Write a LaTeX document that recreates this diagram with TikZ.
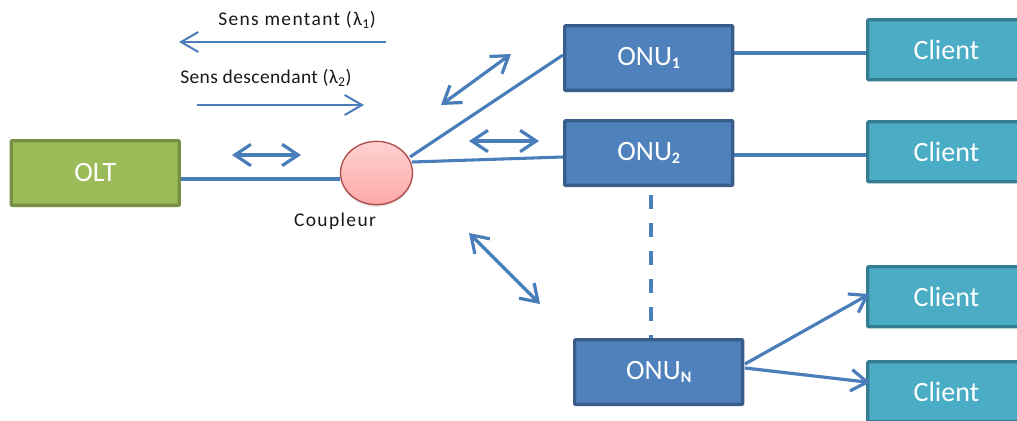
\documentclass[tikz,border=0pt]{standalone}
\usepackage{fontspec}
\setmainfont{Carlito}
\usetikzlibrary{arrows.meta,shapes.geometric,shadows}
\definecolor{linkblue}{HTML}{4A7EBB}
\definecolor{onufill}{HTML}{4F81BD}
\definecolor{onuedge}{HTML}{385D8A}
\definecolor{oltfill}{HTML}{9BBB59}
\definecolor{oltedge}{HTML}{779044}
\definecolor{clifill}{HTML}{4BACC6}
\definecolor{cliedge}{HTML}{357D91}
\newcommand{\onusub}[1]{\raisebox{-2.5pt}{\fontsize{12}{12}\selectfont\textbf{#1}}}
\tikzset{
  x=0.75pt,y=-0.75pt,
  boxbase/.style={rectangle,inner sep=0pt,rounded corners=0.8pt,line width=2.6pt,text=white,font=\fontsize{21}{24}\selectfont,anchor=north west},
  onubox/.style={boxbase,draw=onuedge,fill=onufill,minimum width=126pt,minimum height=48.5pt},
  oltbox/.style={boxbase,draw=oltedge,fill=oltfill,minimum width=126pt,minimum height=48.5pt},
  clibox/.style={boxbase,draw=cliedge,fill=clifill,minimum width=118pt,minimum height=45pt},
  link/.style={draw=linkblue,line width=2.3pt},
  thinarrow/.style={draw=linkblue,line width=1.5pt,-{Straight Barb[length=13pt,width=15pt,line width=1.5pt]}},
  twoway/.style={draw=linkblue,line width=2.4pt,{Straight Barb[length=12pt,width=16pt,line width=2.4pt]}-{Straight Barb[length=12pt,width=16pt,line width=2.4pt]}},
  onearrow/.style={draw=linkblue,line width=2.4pt,-{Straight Barb[length=12pt,width=16pt,line width=2.4pt]}},
  caption/.style={text=black!90,font=\fontsize{14.6}{16}\selectfont,inner sep=0pt},
}
\begin{document}
\begin{tikzpicture}
\useasboundingbox (0,0) rectangle (1017,421);
% boxes
\node[oltbox] (olt) at (9.5,139) {\raisebox{1.5pt}{OLT}};
\node[onubox] (onu1) at (563,24) {ONU\onusub{1}};
\node[onubox] (onu2) at (563,119) {ONU\onusub{2}};
\node[onubox] (onun) at (573,338) {ONU\onusub{N}};
\node[clibox] (c1) at (866,18) {Client};
\node[clibox] (c2) at (866,120) {Client};
\node[clibox] (c3) at (866,265) {Client};
\node[clibox] (c4) at (866,360) {Client};
% coupler
\node[ellipse,draw=red!55!black!70,line width=1pt,top color=red!18,bottom color=red!34,minimum width=54pt,minimum height=47.5pt,inner sep=0pt,
  drop shadow={shadow xshift=0pt,shadow yshift=-1.5pt,opacity=0.25}] (cp) at (376.5,173) {};
% links
\draw[link] (olt.east |- 0,179) coordinate (oltport) -- (cp.west |- oltport);
\coordinate (cpa) at (410,157);
\coordinate (cpb) at (412,162);
\draw[link] (cpa) -- (onu1.north west |- 0,55) coordinate (onu1port);
\draw[link] (cpb) -- (onu2.west |- 0,157) coordinate (onu2port);
\draw[link] (onu1.east |- 0,53) -- (c1.west |- 0,53);
\draw[link] (onu2.east |- 0,155) -- (c2.west |- 0,155);
\coordinate (da) at (651,195);
\draw[link,dash pattern=on 10.5pt off 10.5pt,line width=2.8pt] (da) -- (da |- onun.north);
\coordinate (o3) at (745,364);
\coordinate (o4) at (745,368);
\draw[onearrow,shorten >=-3pt] (o3) -- (c3.west |- 0,296);
\draw[onearrow,shorten >=-3pt] (o4) -- (c4.west |- 0,382);
% direction arrows
\coordinate (a1) at (386,42); \coordinate (a2) at (179,42);
\draw[thinarrow] (a1) -- (a2);
\coordinate (b1) at (197,105); \coordinate (b2) at (364,105);
\draw[thinarrow] (b1) -- (b2);
\coordinate (t1a) at (232,155); \coordinate (t1b) at (301,155);
\draw[twoway] (t1a) -- (t1b);
\coordinate (t2a) at (441,105); \coordinate (t2b) at (511,54);
\draw[twoway] (t2a) -- (t2b);
\coordinate (t3a) at (469,141); \coordinate (t3b) at (539,141);
\draw[twoway] (t3a) -- (t3b);
\coordinate (t4a) at (469,233); \coordinate (t4b) at (540,304);
\draw[twoway] (t4a) -- (t4b);
% labels
\node[caption,anchor=west] (lm) at (218,20) {\addfontfeatures{LetterSpace=7}Sens mentant (λ\textsubscript{1})};
\node[caption,anchor=west] (ld) at (180,78) {\addfontfeatures{LetterSpace=2}Sens descendant (λ\textsubscript{2})};
\node[caption] (lc) at (335,221) {\addfontfeatures{LetterSpace=7}Coupleur};
\end{tikzpicture}
\end{document}
